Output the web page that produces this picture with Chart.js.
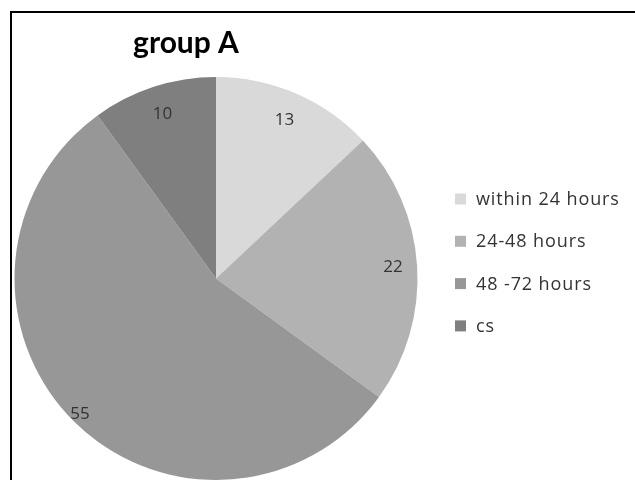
<!DOCTYPE html>
<html>
<head>
<meta charset="utf-8">
<script src="https://cdn.jsdelivr.net/npm/chart.js@4.4.1/dist/chart.umd.min.js"></script>
<style>
  html, body { margin: 0; padding: 0; background: #fff; }
  #wrap { position: relative; width: 635px; height: 480px; overflow: hidden; }
  #frame { position: absolute; left: 10px; top: 11px; width: 700px; height: 600px;
           border-top: 2px solid #000; border-left: 2px solid #000; box-sizing: border-box; }
  canvas { position: absolute; left: 0; top: 0; }
</style>
</head>
<body>
<div id="wrap">
  <div id="frame"></div>
  <canvas id="c" width="635" height="480"></canvas>
</div>
<script>
const chartTitle = "group A";
const categories = ["within 24 hours", "24-48 hours", "48 -72 hours", "cs"];
const values = [13, 22, 55, 10];
const colors = ["#d9d9d9", "#b2b2b2", "#979797", "#7f7f7f"];
const labelRadiusFactor = [0.855, 0.88, 0.955, 0.86];

const overlay = {
  id: 'overlay',
  afterDraw(chart) {
    const ctx = chart.ctx;
    ctx.save();
    // title
    ctx.fillStyle = '#000';
    ctx.font = 'bold 30px Lato';
    ctx.textAlign = 'center';
    ctx.textBaseline = 'alphabetic';
    ctx.fillText(chartTitle, 186, 53);

    // data labels
    const meta = chart.getDatasetMeta(0);
    ctx.font = '17px "Open Sans"';
    ctx.fillStyle = '#333333';
    ctx.textBaseline = 'middle';
    meta.data.forEach((arc, i) => {
      const p = arc.getProps(['x', 'y', 'startAngle', 'endAngle', 'outerRadius'], true);
      const mid = (p.startAngle + p.endAngle) / 2;
      const r = p.outerRadius * labelRadiusFactor[i];
      ctx.fillText(String(values[i]), p.x + Math.cos(mid) * r, p.y + Math.sin(mid) * r);
    });

    // legend
    ctx.textAlign = 'left';
    ctx.font = '18px "Open Sans"';
    ctx.letterSpacing = '0.9px';
    categories.forEach((c, i) => {
      const y = 199 + i * 42.3;
      ctx.fillStyle = colors[i];
      ctx.fillRect(455, y - 5.5, 11, 11);
      ctx.fillStyle = '#333333';
      ctx.fillText(c, 476, y + 1);
    });
    ctx.restore();
  }
};

new Chart(document.getElementById('c'), {
  type: 'pie',
  data: {
    labels: categories,
    datasets: [{ data: values, backgroundColor: colors, borderWidth: 0 }]
  },
  options: {
    responsive: false,
    animation: false,
    layout: { padding: { left: 14, top: 77, right: 217, bottom: 0 } },
    plugins: { legend: { display: false }, title: { display: false }, tooltip: { enabled: false } }
  },
  plugins: [overlay]
});
</script>
</body>
</html>
